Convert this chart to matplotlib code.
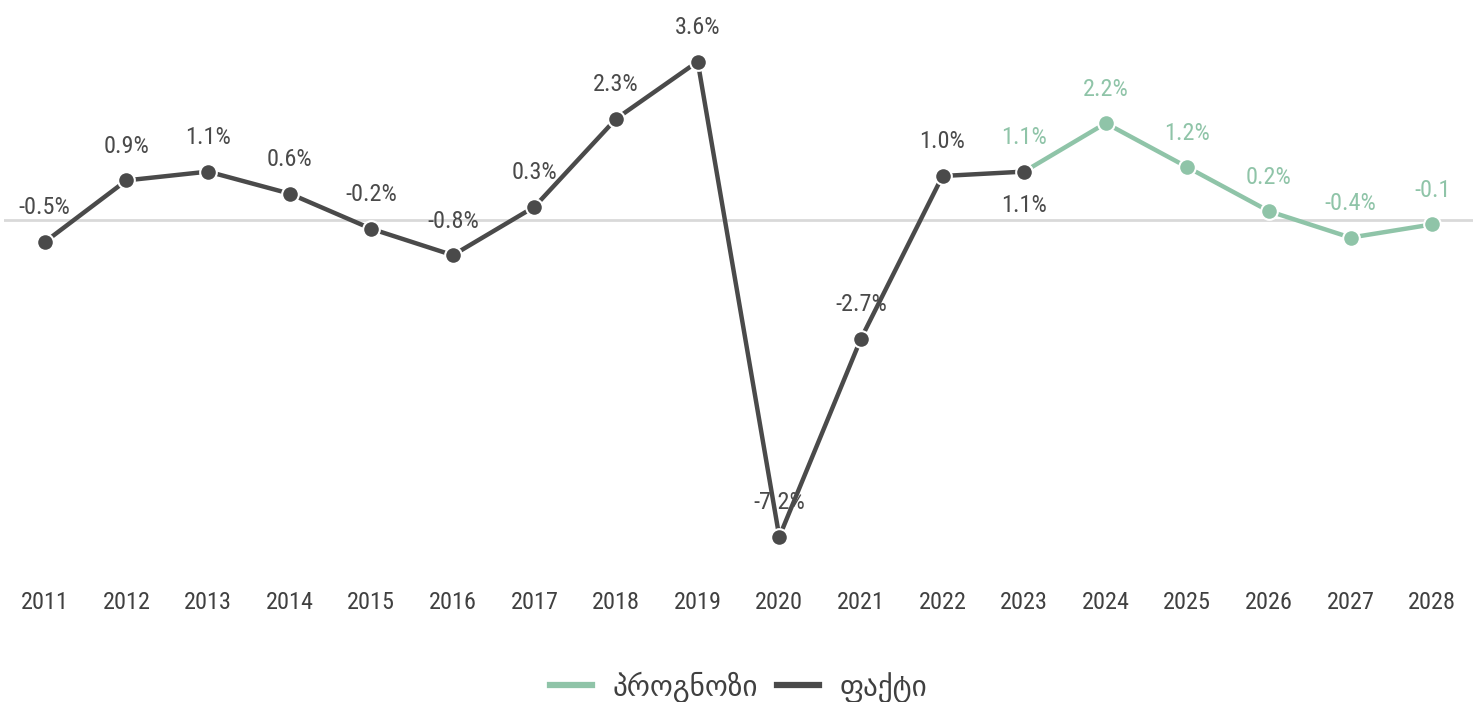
import matplotlib.pyplot as plt
from matplotlib import font_manager

# data
years = [str(y) for y in range(2011, 2029)]
fact_years = years[:13]
fact_vals = [-0.5, 0.9, 1.1, 0.6, -0.2, -0.8, 0.3, 2.3, 3.6, -7.2, -2.7, 1.0, 1.1]
fcst_years = years[12:]
fcst_vals = [1.1, 2.2, 1.2, 0.2, -0.4, -0.1]
fcst_labels = ['1.1%', '2.2%', '1.2%', '0.2%', '-0.4%', '-0.1']

dark = '#4a4a4a'
green = '#8fc4a8'

# pick a narrow face if there is one
names = {f.name for f in font_manager.fontManager.ttflist}
narrow = [n for n in ['Liberation Sans Narrow', 'Roboto Condensed', 'Open Sans Condensed',
                      'DejaVu Sans Condensed'] if n in names]
label_font = (narrow[:1] or ['DejaVu Sans']) + ['DejaVu Sans']
txt = dict(family=label_font, stretch='condensed')

fig = plt.figure(figsize=(14.77, 7.02), dpi=100)
ax = fig.add_axes([4 / 1477, 1 - 572 / 702, 1469 / 1477, 572 / 702])

x_fact = list(range(len(fact_vals)))
x_fcst = list(range(12, 12 + len(fcst_vals)))

ax.axhline(0, color='#d9d9d9', lw=2, zorder=1)

ax.plot(x_fcst, fcst_vals, color=green, lw=3.2, marker='o', ms=12,
        mec='white', mew=1.5, zorder=3, label='პროგნოზი')
ax.plot(x_fact, fact_vals, color=dark, lw=3.2, marker='o', ms=12,
        mec='white', mew=1.5, zorder=4, label='ფაქტი')

for i, v in enumerate(fact_vals):
    dy = -24.5 if i == 12 else 24.5
    ax.annotate(f'{v:.1f}%', (i, v), xytext=(0, dy), textcoords='offset points',
                ha='center', va='center', fontsize=17.5, color=dark, **txt)

for i, (v, t) in enumerate(zip(fcst_vals, fcst_labels)):
    ax.annotate(t, (12 + i, v), xytext=(0, 24.5), textcoords='offset points',
                ha='center', va='center', fontsize=17.5, color=green, **txt)

ax.set_xlim(-0.5, len(years) - 0.5)
ax.set_ylim(-8, 5)
ax.set_xticks(range(len(years)))
ax.set_xticklabels(years, fontsize=17.5, color='#404040', **txt)
ax.tick_params(axis='x', length=0, pad=14)
ax.set_yticks([])
for s in ax.spines.values():
    s.set_visible(False)

leg = fig.legend(loc='center', bbox_to_anchor=(0.5, 1 - 687 / 702), ncol=2,
                 frameon=False, handlelength=1.45, handletextpad=0.7, columnspacing=0.65,
                 prop={'family': 'DejaVu Sans', 'size': 21})
for t in leg.get_texts():
    t.set_color('#404040')
for h in leg.legend_handles:
    h.set_marker('')
    h.set_linewidth(4.5)

fig.savefig('out.png', dpi=100)
